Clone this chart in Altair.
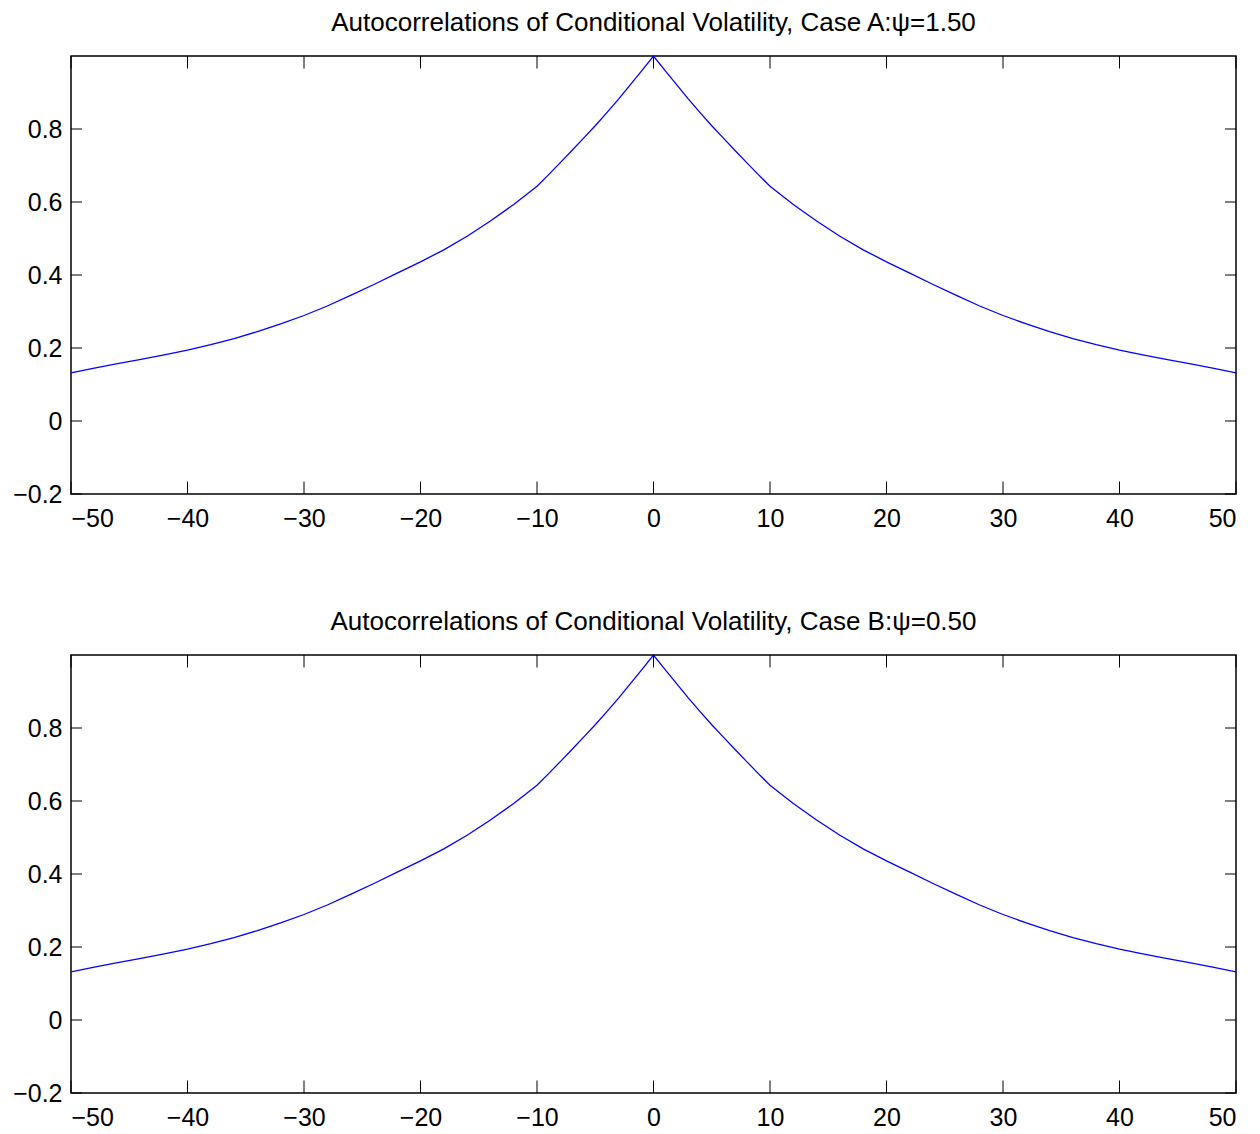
import altair as alt
import pandas as pd

# Lags and autocorrelation values
lags_half = [0, 1, 2, 3, 4, 5, 6, 7, 8, 9, 10, 12, 14, 16, 18, 20, 22, 24,
             26, 28, 30, 32, 34, 36, 38, 40, 42, 44, 46, 48, 50]
acf_a_half = [1.000, 0.960, 0.921, 0.882, 0.845, 0.809, 0.775, 0.741, 0.708,
              0.675, 0.643, 0.593, 0.548, 0.506, 0.469, 0.436, 0.405, 0.374,
              0.344, 0.315, 0.289, 0.266, 0.245, 0.226, 0.209, 0.194, 0.181,
              0.169, 0.157, 0.145, 0.132]
acf_b_half = [1.000, 0.960, 0.921, 0.882, 0.845, 0.809, 0.775, 0.741, 0.708,
              0.675, 0.643, 0.593, 0.548, 0.506, 0.469, 0.436, 0.405, 0.374,
              0.344, 0.315, 0.289, 0.266, 0.245, 0.226, 0.209, 0.194, 0.181,
              0.169, 0.157, 0.145, 0.132]

x_ticks = [-50, -40, -30, -20, -10, 0, 10, 20, 30, 40, 50]
y_ticks = [-0.2, 0, 0.2, 0.4, 0.6, 0.8]

titles = ["Autocorrelations of Conditional Volatility, Case A:\u03c8=1.50",
          "Autocorrelations of Conditional Volatility, Case B:\u03c8=0.50"]

W, H = 1165, 438
XT, YT = 12.5, 11
FONT = "Liberation Sans"


def mirrored(lags, vals):
    xs = [-l for l in reversed(lags[1:])] + list(lags)
    ys = list(reversed(vals[1:])) + list(vals)
    return pd.DataFrame({"lag": xs, "acf": ys})


minus_expr = "replace(format(datum.value, '~g'), '-', '\u2212')"


def panel(df, title):
    xscale = alt.Scale(domain=[-50, 50], nice=False, zero=False)
    yscale = alt.Scale(domain=[-0.2, 1.0], nice=False, zero=False)
    line = alt.Chart(df).mark_line(color="#0000ff", strokeWidth=1.3).encode(
        x=alt.X("lag:Q", scale=xscale, title=None,
                axis=alt.Axis(values=x_ticks, labelExpr=minus_expr)),
        y=alt.Y("acf:Q", scale=yscale, title=None,
                axis=alt.Axis(values=y_ticks, labelExpr=minus_expr)),
    )
    xt = pd.DataFrame({"lag": x_ticks})
    yt = pd.DataFrame({"acf": y_ticks})
    tick_style = dict(color="#000000", strokeWidth=1)
    xb = alt.Chart(xt).mark_rule(**tick_style).encode(
        x=alt.X("lag:Q", scale=xscale, title=None),
        y=alt.value(H), y2=alt.value(H - XT))
    xtop = alt.Chart(xt).mark_rule(**tick_style).encode(
        x=alt.X("lag:Q", scale=xscale, title=None),
        y=alt.value(0), y2=alt.value(XT))
    yl = alt.Chart(yt).mark_rule(**tick_style).encode(
        y=alt.Y("acf:Q", scale=yscale, title=None),
        x=alt.value(0), x2=alt.value(YT))
    yr = alt.Chart(yt).mark_rule(**tick_style).encode(
        y=alt.Y("acf:Q", scale=yscale, title=None),
        x=alt.value(W), x2=alt.value(W - YT))
    return alt.layer(line, xb, xtop, yl, yr).properties(
        width=W, height=H,
        title=alt.TitleParams(title, fontSize=26, font=FONT, fontWeight="normal",
                              color="#000000", offset=17, anchor="middle"))


chart = alt.vconcat(
    panel(mirrored(lags_half, acf_a_half), titles[0]),
    panel(mirrored(lags_half, acf_b_half), titles[1]),
    spacing=76,
).properties(
    padding={"left": 3, "top": 1, "right": 5, "bottom": 0}
).configure_view(
    stroke="#000000", strokeWidth=1.5
).configure_axis(
    grid=False, ticks=False, domain=False,
    labelFont=FONT, labelFontSize=25, labelColor="#000000",
).configure_axisX(labelPadding=12).configure_axisY(labelPadding=9)

chart.save("out.html", embed_options={"renderer": "svg", "actions": False})
